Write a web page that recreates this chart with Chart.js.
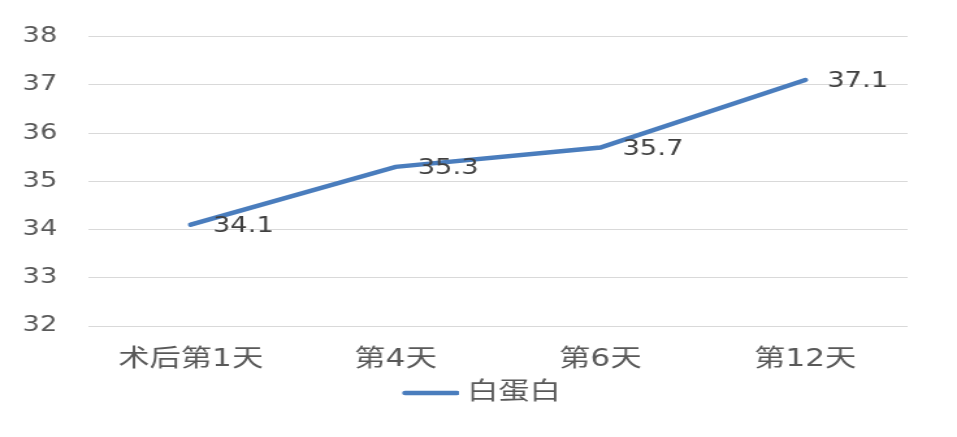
<!DOCTYPE html>
<html>
<head>
<meta charset="utf-8">
<script src="https://cdn.jsdelivr.net/npm/chart.js@4/dist/chart.umd.min.js"></script>
<style>
  html, body { margin: 0; padding: 0; background: #fff; }
  #chart { display: block; }
</style>
</head>
<body>
<!-- the reference is a horizontally stretched picture, so draw narrow and stretch -->
<canvas id="chart" width="736" height="437" style="width:957px;height:437px"></canvas>
<script>
// data
const categories = ["术后第1天", "第4天", "第6天", "第12天"];
const albumin = [34.1, 35.3, 35.7, 37.1];
const seriesName = "白蛋白";
const yMin = 32;
const yMax = 38;
const yStep = 1;

const fontFamily = "'DejaVu Sans', 'Noto Sans CJK SC', sans-serif";
const lineColor = "#4a7dbd";

// legend marker: short line drawn on the right half of a wide box,
// so the legend item sits a bit right of the canvas centre like the original
const marker = document.createElement("canvas");
marker.width = 92;
marker.height = 10;
(function () {
  const c = marker.getContext("2d");
  c.strokeStyle = lineColor;
  c.lineWidth = 4.5;
  c.lineCap = "round";
  c.beginPath();
  c.moveTo(50.5, 5);
  c.lineTo(90.5, 5);
  c.stroke();
})();

// labels next to each point
const pointLabels = {
  id: "pointLabels",
  afterDatasetsDraw(chart) {
    const ctx = chart.ctx;
    const meta = chart.getDatasetMeta(0);
    ctx.save();
    ctx.font = "21px " + fontFamily;
    ctx.fillStyle = "#404040";
    ctx.textAlign = "left";
    ctx.textBaseline = "middle";
    meta.data.forEach((pt, i) => {
      ctx.fillText(String(albumin[i]), pt.x + 17, pt.y + 2);
    });
    ctx.restore();
  }
};

new Chart(document.getElementById("chart"), {
  type: "line",
  data: {
    labels: categories,
    datasets: [{
      label: seriesName,
      data: albumin,
      borderColor: lineColor,
      backgroundColor: lineColor,
      borderWidth: 4.5,
      borderCapStyle: "round",
      pointRadius: 0,
      pointHoverRadius: 0,
      tension: 0
    }]
  },
  options: {
    responsive: false,
    animation: false,
    layout: { padding: { top: 36, right: 38, bottom: 22, left: 0 } },
    scales: {
      x: {
        offset: true,
        grid: { display: false, drawTicks: false },
        border: { display: false },
        ticks: { color: "#595959", font: { size: 24, family: fontFamily }, padding: 19, maxRotation: 0 },
        afterFit(scale) { scale.height = 50; }
      },
      y: {
        min: yMin,
        max: yMax,
        grid: { color: "#d9d9d9", lineWidth: 1, drawTicks: false },
        border: { display: false },
        ticks: { stepSize: yStep, color: "#595959", font: { size: 21, family: fontFamily }, padding: 24 },
        afterFit(scale) { scale.width = 68; }
      }
    },
    plugins: {
      legend: {
        position: "bottom",
        labels: {
          usePointStyle: true,
          pointStyle: marker,
          pointStyleWidth: 80.4,
          color: "#595959",
          font: { size: 24, family: fontFamily },
          padding: 5
        }
      },
      tooltip: { enabled: false }
    }
  },
  plugins: [pointLabels]
});
</script>
</body>
</html>
